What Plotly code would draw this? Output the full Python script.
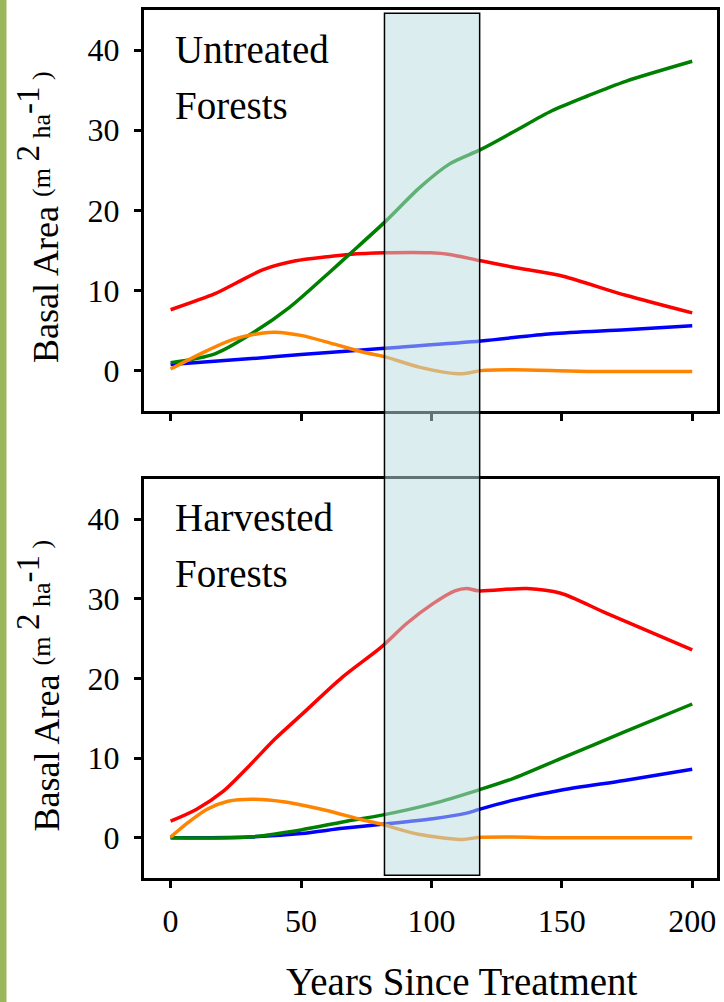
import plotly.graph_objects as go

# ---------------- data ----------------
# Untreated forests
unt_red_x = [0, 17, 25.5, 35.5, 48, 60, 68.5, 82, 100, 107, 119, 131.5, 149, 174.5, 200]
unt_red_y = [7.6, 9.6, 11.0, 12.6, 13.7, 14.2, 14.5, 14.7, 14.7, 14.5, 13.7, 12.9, 11.9, 9.4, 7.2]

unt_green_x = [0, 17, 31, 45.6, 60, 68.5, 82, 95.7, 107, 119, 131.5, 146, 160, 174.5, 200]
unt_green_y = [1.0, 2.1, 4.6, 7.9, 12.0, 14.5, 18.5, 22.9, 25.8, 27.6, 29.8, 32.4, 34.3, 36.1, 38.6]

unt_blue_x = [0, 31, 50, 82, 119, 146, 174.5, 200]
unt_blue_y = [0.75, 1.5, 2.0, 2.8, 3.7, 4.6, 5.1, 5.6]

unt_orange_x = [0, 14, 24, 35.5, 40, 50, 62.8, 74, 82, 95.7, 110, 114, 119, 131.5, 160, 200]
unt_orange_y = [0.2, 2.5, 3.9, 4.7, 4.8, 4.4, 3.3, 2.3, 1.75, 0.4, -0.4, -0.3, 0.0, 0.1, -0.1, -0.1]

# Harvested forests
har_red_x = [0, 10, 20, 30, 40, 50, 66, 81, 90.5, 100.6, 109, 113.5, 118, 136.6, 149.6, 167, 200]
har_red_y = [2.1, 3.6, 5.8, 9.0, 12.4, 15.4, 20.2, 24.0, 26.9, 29.4, 31.0, 31.3, 31.0, 31.3, 30.7, 28.2, 23.6]

har_green_x = [0, 30, 50, 66, 81, 100.6, 118, 131, 150, 174, 200]
har_green_y = [0.0, 0.1, 1.0, 2.0, 2.85, 4.3, 6.0, 7.4, 10.0, 13.3, 16.8]

har_blue_x = [0, 30, 50, 66, 81, 100.6, 113.5, 118, 131, 150, 174, 200]
har_blue_y = [0.0, 0.1, 0.55, 1.2, 1.7, 2.4, 3.1, 3.55, 4.7, 6.0, 7.2, 8.6]

har_orange_x = [0, 7, 14, 22, 31, 44, 59, 73, 81, 95, 112, 118, 131, 150, 200]
har_orange_y = [0.1, 2.0, 3.6, 4.6, 4.85, 4.5, 3.5, 2.3, 1.7, 0.45, -0.2, 0.05, 0.1, 0.0, 0.0]

x_ticks = [0, 50, 100, 150, 200]
y_ticks = [0, 10, 20, 30, 40]
highlight_years = [82, 118.5]

panel_labels = [["Untreated", "Forests"], ["Harvested", "Forests"]]
y_title_main = "Basal Area"
y_title_unit = ("(m&nbsp;<sup><span style='font-size:33px'>2</span></sup>"
                "&nbsp;ha<sup><span style='font-size:33px'>-1</span></sup>&nbsp;)")
x_title = "Years Since Treatment"

# ---------------- figure ----------------
W, H = 724, 1002
FONT = "Liberation Serif, Times New Roman, serif"

def py(px):
    return 1 - px / H

def pxx(px):
    return px / W

fig = go.Figure()

RED, GREEN, BLUE, ORANGE = "#ff0000", "#008000", "#0000ff", "#ff8400"
LW = 3.5

def add(xs, ys, color, axis):
    fig.add_trace(go.Scatter(x=xs, y=ys, mode="lines",
                             line=dict(color=color, width=LW, shape="spline", smoothing=0.8),
                             xaxis="x" if axis == 1 else "x2",
                             yaxis="y" if axis == 1 else "y2",
                             showlegend=False, hoverinfo="skip"))

add(unt_blue_x, unt_blue_y, BLUE, 1)
add(unt_red_x, unt_red_y, RED, 1)
add(unt_green_x, unt_green_y, GREEN, 1)
add(unt_orange_x, unt_orange_y, ORANGE, 1)

add(har_blue_x, har_blue_y, BLUE, 2)
add(har_green_x, har_green_y, GREEN, 2)
add(har_red_x, har_red_y, RED, 2)
add(har_orange_x, har_orange_y, ORANGE, 2)

xdom = [pxx(144), pxx(717)]
top_dom = [py(410.7), py(10)]
bot_dom = [py(877.7), py(479.3)]

axis_common = dict(showline=True, linecolor="black", linewidth=3, mirror=True,
                   showgrid=False, zeroline=False, ticks="outside", ticklen=7,
                   tickwidth=2.5, tickcolor="black",
                   tickfont=dict(family=FONT, size=32, color="black"))

fig.update_layout(
    width=W, height=H, margin=dict(l=0, r=0, t=0, b=0),
    paper_bgcolor="white", plot_bgcolor="white",
    font=dict(family=FONT, color="black"),
    xaxis=dict(domain=xdom, range=[-10.2, 209.5], tickvals=x_ticks,
               showticklabels=False, anchor="y", **axis_common),
    yaxis=dict(domain=top_dom, range=[-5, 45], tickvals=y_ticks, anchor="x",
               ticklabelstandoff=8, **axis_common),
    xaxis2=dict(domain=xdom, range=[-10.2, 209.5], tickvals=x_ticks, anchor="y2",
                ticklabelstandoff=6, **axis_common),
    yaxis2=dict(domain=bot_dom, range=[-5, 45], tickvals=y_ticks, anchor="x2",
                ticklabelstandoff=8, **axis_common),
)

# left decorative bar
fig.add_shape(type="rect", xref="paper", yref="paper", x0=0, x1=pxx(6.5), y0=0, y1=1,
              fillcolor="#9bb65a", line=dict(width=0), layer="below")

# highlight band spanning both panels
fig.add_shape(type="rect", xref="x", yref="paper",
              x0=highlight_years[0], x1=highlight_years[1], y0=py(875.3), y1=py(13.3),
              fillcolor="rgba(186,220,224,0.52)", line=dict(color="black", width=1.5),
              layer="above")

for center in [210, 678.5]:
    fig.add_annotation(text=y_title_main, xref="paper", yref="paper", x=pxx(46),
                       y=py(center + 75), textangle=-90, showarrow=False,
                       xanchor="center", yanchor="middle",
                       font=dict(family=FONT, size=36, color="black"))
    fig.add_annotation(text=y_title_unit, xref="paper", yref="paper", x=pxx(33),
                       y=py(center - 76), textangle=-90, showarrow=False,
                       xanchor="center", yanchor="middle",
                       font=dict(family=FONT, size=26, color="black"))

for (l1, l2), ytop in zip(panel_labels, [26, 494]):
    fig.add_annotation(text=l1, xref="paper", yref="paper", x=pxx(173), y=py(ytop),
                       showarrow=False, xanchor="left", yanchor="top",
                       font=dict(family=FONT, size=39, color="black"))
    fig.add_annotation(text=l2, xref="paper", yref="paper", x=pxx(173), y=py(ytop + 56),
                       showarrow=False, xanchor="left", yanchor="top",
                       font=dict(family=FONT, size=39, color="black"))

fig.add_annotation(text=x_title, xref="paper", yref="paper",
                   x=pxx(462), y=py(981), showarrow=False, xanchor="center", yanchor="middle",
                   font=dict(family=FONT, size=39, color="black"))

fig.write_html("out.html", config={"displayModeBar": False},
               post_script="document.body.style.margin='0px';"
                           "document.documentElement.style.overflow='hidden';"
                           "document.body.style.overflow='hidden';")
